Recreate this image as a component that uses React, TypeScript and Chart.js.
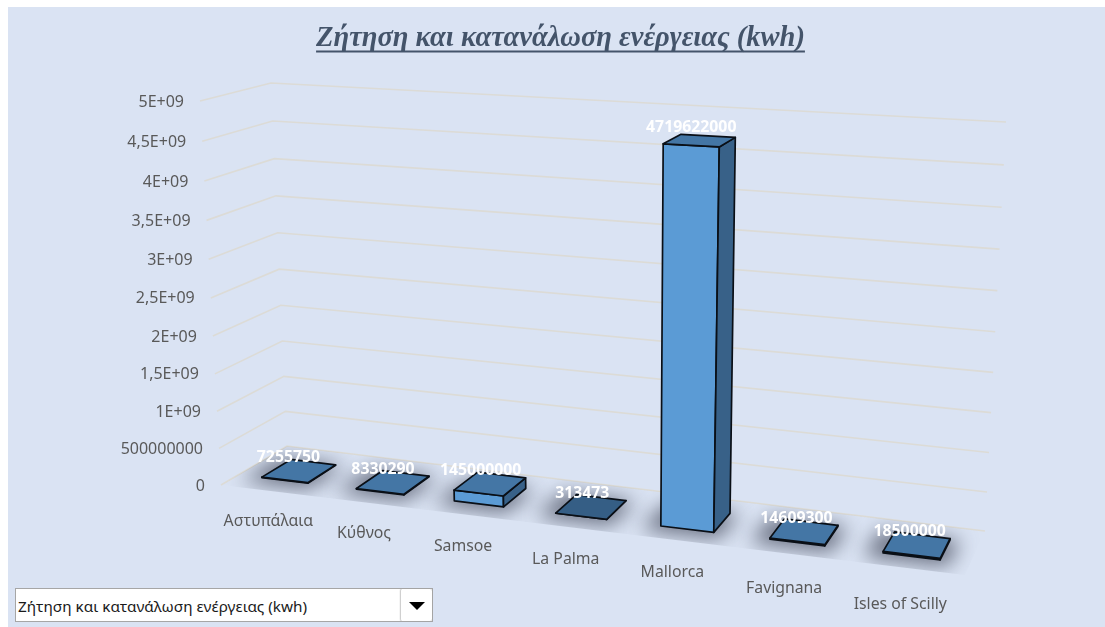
import React, { useEffect, useRef } from "react";
import { Chart, registerables } from "chart.js";

Chart.register(...registerables);

const chartTitle = "Ζήτηση και κατανάλωση ενέργειας (kwh)";
const selectorText = "Ζήτηση και κατανάλωση ενέργειας (kwh)";
const islands = ["Αστυπάλαια", "Κύθνος", "Samsoe", "La Palma", "Mallorca", "Favignana", "Isles of Scilly"];
const energyDemand = [7255750, 8330290, 145000000, 313473, 4719622000, 14609300, 18500000];
const axisMax = 5e9;
const axisStep = 5e8;
const axisLabels = ["0", "500000000", "1E+09", "1,5E+09", "2E+09", "2,5E+09", "3E+09", "3,5E+09", "4E+09", "4,5E+09", "5E+09"];

type Pt = [number, number];
type Quad = { fl: Pt; fr: Pt; br: Pt; bl: Pt };

// Screen corners of the floor plane and of the plane through the top of the axis.
const FLOOR: Quad = { fl: [221, 485], fr: [965, 575], br: [985, 531], bl: [287, 446] };
const CEILING: Quad = { fl: [200, 101], fr: [990, 143], br: [1006, 122], bl: [271, 83] };
const DEPTH_FRONT = 0.25;
const DEPTH_BACK = 0.7;
const U_PERSPECTIVE = 0.87;
const H_PERSPECTIVE = 0.95;

const warp = (t: number, p: number) => (t * p) / (1 + (p - 1) * t);

// Maps the unit square onto a screen quadrilateral.
function quadMap(q: Quad) {
  const [x0, y0] = q.fl, [x1, y1] = q.fr, [x2, y2] = q.br, [x3, y3] = q.bl;
  const dx1 = x1 - x2, dx2 = x3 - x2, dy1 = y1 - y2, dy2 = y3 - y2;
  const sx = x0 - x1 + x2 - x3, sy = y0 - y1 + y2 - y3;
  const det = dx1 * dy2 - dx2 * dy1;
  const g = (sx * dy2 - dx2 * sy) / det;
  const k = (dx1 * sy - sx * dy1) / det;
  const a = x1 - x0 + g * x1, b = x3 - x0 + k * x3;
  const d = y1 - y0 + g * y1, e = y3 - y0 + k * y3;
  return (u: number, v: number): Pt => {
    const w = g * u + k * v + 1;
    return [(a * u + b * v + x0) / w, (d * u + e * v + y0) / w];
  };
}

const floorMap = quadMap(FLOOR);
const ceilingMap = quadMap(CEILING);

// u along the categories, v into the depth, h up the value axis (all 0..1).
function project(u: number, v: number, h: number): Pt {
  const uu = warp(u, U_PERSPECTIVE);
  const s = warp(h, H_PERSPECTIVE);
  const lo = floorMap(uu, v);
  const hi = ceilingMap(uu, v);
  return [lo[0] + (hi[0] - lo[0]) * s, lo[1] + (hi[1] - lo[1]) * s];
}

function polygon(ctx: CanvasRenderingContext2D, pts: Pt[]) {
  ctx.beginPath();
  pts.forEach((p, i) => (i ? ctx.lineTo(p[0], p[1]) : ctx.moveTo(p[0], p[1])));
  ctx.closePath();
}

function barGeometry(chart: any, el: any, value: number) {
  const area = chart.chartArea;
  const y = chart.scales.y;
  const zero = y.getPixelForValue(0);
  const u0 = (el.x - el.width / 2 - area.left) / area.width;
  const u1 = (el.x + el.width / 2 - area.left) / area.width;
  const h = (zero - y.getPixelForValue(value)) / (zero - y.getPixelForValue(axisMax));
  return { u0, u1, h };
}

const scene3d = {
  id: "scene3d",
  beforeDatasetsDraw(chart: any) {
    const ctx: CanvasRenderingContext2D = chart.ctx;
    const y = chart.scales.y;
    const zero = y.getPixelForValue(0);
    const full = zero - y.getPixelForValue(axisMax);

    // Wall grid lines and value axis labels
    ctx.save();
    ctx.strokeStyle = "#dcdbd6";
    ctx.lineWidth = 1.6;
    y.ticks.forEach((tick: any) => {
      const h = (zero - y.getPixelForValue(tick.value)) / full;
      const a = project(0, 0, h), b = project(0, 1, h), c = project(1, 1, h);
      ctx.beginPath();
      ctx.moveTo(a[0], a[1]);
      ctx.lineTo(b[0], b[1]);
      ctx.lineTo(c[0], c[1]);
      ctx.stroke();
      ctx.fillStyle = "#595959";
      ctx.font = '16px "Noto Sans"';
      ctx.textAlign = "right";
      ctx.textBaseline = "middle";
      ctx.fillText(tick.label as string, a[0] - 16, a[1] + 1);
    });
    ctx.restore();

    // Soft floor shadow under every bar, cut off at the floor's edge
    const meta = chart.getDatasetMeta(0);
    ctx.save();
    polygon(ctx, [project(0, 0, 0), project(1, 0, 0), project(1, 1, 0), project(0, 1, 0)]);
    ctx.clip();
    ctx.filter = "blur(10px)";
    ctx.fillStyle = "rgba(62,68,86,0.72)";
    meta.data.forEach((el: any, i: number) => {
      const { u0, u1 } = barGeometry(chart, el, energyDemand[i]);
      const pts = [
        project(u0 - 0.02, DEPTH_FRONT - 0.12, 0),
        project(u1 + 0.012, DEPTH_FRONT - 0.12, 0),
        project(u1 + 0.012, DEPTH_BACK + 0.02, 0),
        project(u0 - 0.02, DEPTH_BACK + 0.02, 0),
      ];
      polygon(ctx, pts);
      ctx.fill();
    });
    ctx.restore();
  },
  beforeDatasetDraw() {
    return false;
  },
  afterDatasetsDraw(chart: any) {
    const ctx: CanvasRenderingContext2D = chart.ctx;
    const meta = chart.getDatasetMeta(0);
    const xScale = chart.scales.x;
    const area = chart.chartArea;

    meta.data.forEach((el: any, i: number) => {
      const value = energyDemand[i];
      const { u0, u1, h } = barGeometry(chart, el, value);
      const f0 = project(u0, DEPTH_FRONT, 0), f1 = project(u1, DEPTH_FRONT, 0), b1 = project(u1, DEPTH_BACK, 0);
      const t0 = project(u0, DEPTH_FRONT, h), t1 = project(u1, DEPTH_FRONT, h);
      const t2 = project(u1, DEPTH_BACK, h), t3 = project(u0, DEPTH_BACK, h);

      ctx.save();
      ctx.lineWidth = 1.7;
      ctx.lineJoin = "round";
      ctx.strokeStyle = "#0a0f16";
      ctx.fillStyle = "#5b9bd5";
      polygon(ctx, [f0, f1, t1, t0]);
      ctx.fill();
      ctx.stroke();
      ctx.fillStyle = "#386188";
      polygon(ctx, [f1, b1, t2, t1]);
      ctx.fill();
      ctx.stroke();
      ctx.fillStyle = value < 1e6 ? "#355e85" : "#4476a5";
      polygon(ctx, [t0, t1, t2, t3]);
      ctx.fill();
      ctx.stroke();
      ctx.restore();

      // Value label above the bar's top face
      const um = (u0 + u1) / 2;
      const top = project(um, (DEPTH_FRONT + DEPTH_BACK) / 2, h);
      ctx.save();
      ctx.fillStyle = "#ffffff";
      ctx.font = 'bold 15.8px "Noto Sans"';
      ctx.textAlign = "center";
      ctx.textBaseline = "middle";
      ctx.fillText(String(value), top[0] - 11 + 4 * um, top[1] - 13);
      ctx.restore();

      // Category label along the floor's front edge
      const uTick = (xScale.getPixelForTick(i) - area.left) / area.width;
      const front = project(uTick, 0, 0);
      const labelDx = -5 + 9 * Math.max(0, 0.64 - uTick);
      const labelDy = 30 + 4 * uTick + 10 * Math.max(0, uTick - 0.64);
      ctx.save();
      ctx.fillStyle = "#595959";
      ctx.font = '15.8px "Noto Sans"';
      ctx.textAlign = "center";
      ctx.textBaseline = "middle";
      ctx.fillText(islands[i], front[0] + labelDx, front[1] + labelDy);
      ctx.restore();
    });

    // Title underline
    const tb = chart.titleBlock;
    ctx.save();
    ctx.font = 'italic bold 28.5px "Liberation Serif"';
    const w = ctx.measureText(chartTitle).width;
    const cx = (tb.left + tb.right) / 2;
    ctx.fillStyle = "#44546a";
    ctx.fillRect(cx - w / 2, 50.5, w, 2);
    ctx.restore();
  },
};

export default function App() {
  const ref = useRef<HTMLCanvasElement | null>(null);

  useEffect(() => {
    const chart = new Chart(ref.current as HTMLCanvasElement, {
      type: "bar",
      data: {
        labels: islands,
        datasets: [{ label: chartTitle, data: energyDemand, backgroundColor: "#5b9bd5", barPercentage: 0.49, categoryPercentage: 1 }],
      },
      options: {
        animation: false,
        responsive: false,
        devicePixelRatio: 1,
        layout: { padding: { left: 8 } },
        plugins: {
          legend: { display: false },
          tooltip: { enabled: false },
          title: {
            display: true,
            text: chartTitle,
            fullSize: false,
            color: "#44546a",
            font: { family: "Liberation Serif", size: 28.5, weight: "bold", style: "italic" },
            padding: { top: 22, bottom: 10 },
          },
        },
        scales: {
          x: { ticks: { display: false }, grid: { display: false }, border: { display: false } },
          y: {
            min: 0,
            max: axisMax,
            ticks: { display: false, stepSize: axisStep, callback: (v: any) => axisLabels[Math.round(Number(v) / axisStep)] },
            grid: { display: false },
            border: { display: false },
          },
        },
      },
      plugins: [scene3d],
    } as any);
    return () => chart.destroy();
  }, []);

  return (
    <div style={{ position: "fixed", left: 0, top: 0, width: 1105, height: 627, background: "#ffffff", overflow: "hidden" }}>
      <div style={{ position: "absolute", left: 8, top: 7, right: 0, bottom: 0, background: "#dae3f3" }} />
      <canvas ref={ref} width={1105} height={627} style={{ position: "absolute", left: 0, top: 0, display: "block" }} />
      <div
        style={{
          position: "absolute",
          left: 15,
          top: 588,
          width: 418,
          height: 34,
          boxSizing: "border-box",
          background: "#ffffff",
          border: "1px solid #a6a6a6",
          font: '15.3px "Noto Sans"',
          color: "#1a1a1a",
          lineHeight: "34px",
          paddingLeft: 2,
        }}
      >
        {selectorText}
        <div style={{ position: "absolute", right: 0, top: 0, width: 32, height: 32, boxSizing: "border-box", borderLeft: "1px solid #d0d0d0", borderRadius: 2, boxShadow: "0 0 1px #999" }}>
          <div style={{ position: "absolute", left: 8, top: 13, width: 0, height: 0, borderLeft: "8px solid transparent", borderRight: "8px solid transparent", borderTop: "8px solid #000" }} />
        </div>
      </div>
    </div>
  );
}
